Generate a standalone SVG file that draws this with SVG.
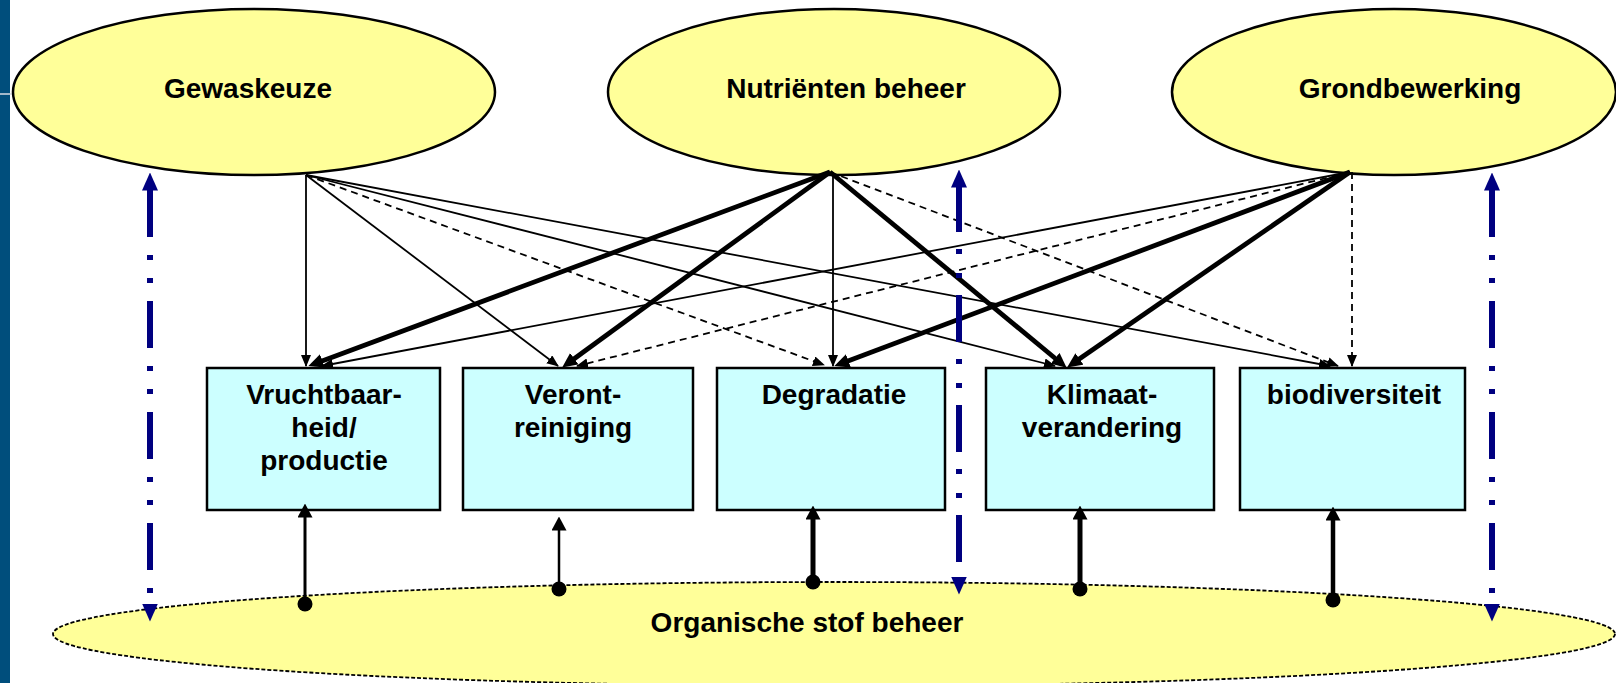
<svg xmlns="http://www.w3.org/2000/svg" width="1616" height="683" viewBox="0 0 1616 683">
<style>
.top{fill:#FFFF99;stroke:#000;stroke-width:2.5}
.box{fill:#CCFFFF;stroke:#000;stroke-width:2.5}
.bot{fill:#FFFF99;stroke:#000;stroke-width:1.8;stroke-dasharray:4 2}
.lbl{font-family:"Liberation Sans",Arial,sans-serif;font-weight:bold;font-size:28px;fill:#000;text-anchor:middle}
.thin{fill:none;stroke:#000;stroke-width:1.8;marker-end:url(#ah)}
.dash{fill:none;stroke:#000;stroke-width:1.8;stroke-dasharray:7 5;marker-end:url(#ah)}
.thick{fill:none;stroke:#000;stroke-width:4.8;marker-end:url(#ahk)}
.blue{fill:none;stroke:#000080;stroke-width:6;marker-start:url(#bah);marker-end:url(#bah)}
.up{fill:none;stroke:#000;marker-start:url(#dot);marker-end:url(#uah)}
</style>
<defs>
<marker id="ah" markerUnits="userSpaceOnUse" markerWidth="12" markerHeight="10" viewBox="0 0 12 10" refX="11" refY="5" orient="auto"><path d="M0,0 L12,5 L0,10 z" fill="#000"/></marker>
<marker id="ahk" markerUnits="userSpaceOnUse" markerWidth="15" markerHeight="14" viewBox="0 0 15 14" refX="9" refY="7" orient="auto"><path d="M0,0 L15,7 L0,14 z" fill="#000"/></marker>
<marker id="bah" markerUnits="userSpaceOnUse" markerWidth="18" markerHeight="16" viewBox="0 0 18 16" refX="0.5" refY="8" orient="auto-start-reverse"><path d="M0,0 L18,8 L0,16 z" fill="#000080"/></marker>
<marker id="uah" markerUnits="userSpaceOnUse" markerWidth="14" markerHeight="15" viewBox="0 0 14 15" refX="0.5" refY="7.5" orient="auto"><path d="M0,0 L14,7.5 L0,15 z" fill="#000"/></marker>
<marker id="dot" markerUnits="userSpaceOnUse" markerWidth="16" markerHeight="16" viewBox="0 0 16 16" refX="8" refY="8" orient="auto"><circle cx="8" cy="8" r="7.5" fill="#000"/></marker>
</defs>
<rect x="0" y="0" width="1616" height="683" fill="#fff"/>
<rect x="0" y="0" width="10" height="683" fill="#004E7C"/>
<line x1="0" y1="94" x2="14" y2="94" stroke="#d8dde4" stroke-width="1.5"/>

<g id="organische">
<ellipse class="bot" cx="834" cy="634" rx="781" ry="52"/>
<text class="lbl" x="807" y="632">Organische stof beheer</text>
</g>

<g id="gewaskeuze">
<ellipse class="top" cx="254" cy="92" rx="241" ry="83"/>
<text class="lbl" x="248" y="98">Gewaskeuze</text>
</g>
<g id="nutrienten">
<ellipse class="top" cx="834" cy="92" rx="226" ry="83"/>
<text class="lbl" x="846" y="98">Nutriënten beheer</text>
</g>
<g id="grondbewerking">
<ellipse class="top" cx="1394" cy="92" rx="222" ry="83"/>
<text class="lbl" x="1410" y="98">Grondbewerking</text>
</g>

<g id="vruchtbaarheid">
<rect class="box" x="207" y="368" width="233" height="142"/>
<text class="lbl" x="324" y="404">Vruchtbaar-</text>
<text class="lbl" x="324" y="437">heid/</text>
<text class="lbl" x="324" y="470">productie</text>
</g>
<g id="verontreiniging">
<rect class="box" x="463" y="368" width="230" height="142"/>
<text class="lbl" x="573" y="404">Veront-</text>
<text class="lbl" x="573" y="437">reiniging</text>
</g>
<g id="degradatie">
<rect class="box" x="717" y="368" width="228" height="142"/>
<text class="lbl" x="834" y="404">Degradatie</text>
</g>
<g id="klimaatverandering">
<rect class="box" x="986" y="368" width="228" height="142"/>
<text class="lbl" x="1102" y="404">Klimaat-</text>
<text class="lbl" x="1102" y="437">verandering</text>
</g>
<g id="biodiversiteit">
<rect class="box" x="1240" y="368" width="225" height="142"/>
<text class="lbl" x="1354" y="404">biodiversiteit</text>
</g>

<g id="connectors">
<!-- from Gewaskeuze -->
<path class="thin" d="M306,175 L306,366"/>
<path class="thin" d="M306,175 L558,366"/>
<path class="dash" d="M306,175 L824,365"/>
<path class="thin" d="M306,175 L1055,366"/>
<path class="thin" d="M306,175 L1330,366"/>
<!-- from Nutrienten -->
<path class="thick" d="M830,172 L314,364"/>
<path class="thick" d="M830,172 L567,364"/>
<path class="thin" d="M833,172 L833,366"/>
<path class="thick" d="M830,172 L1062,364"/>
<path class="dash" d="M830,172 L1338,366"/>
<!-- from Grondbewerking -->
<path class="thin" d="M1350,172 L322,366"/>
<path class="dash" d="M1350,172 L577,366"/>
<path class="thick" d="M1350,172 L840,364"/>
<path class="thick" d="M1350,172 L1072,364"/>
<path class="dash" d="M1352,172 L1352,366"/>
<!-- blue dash-dot-dot double arrows -->
<path class="blue" style="stroke-dasharray:47 18 5 18 5 18" d="M150,190 L150,604"/>
<path class="blue" style="stroke-dasharray:47 17 5 19 5 17;stroke-dashoffset:2" d="M959,187 L959,577"/>
<path class="blue" style="stroke-dasharray:47 18 5 18 5 18" d="M1492,190 L1492,604"/>
<!-- from Organische stof beheer up to boxes -->
<path class="up" style="stroke-width:3" d="M305,604 L305,517"/>
<path class="up" style="stroke-width:2.5" d="M559,589 L559,530"/>
<path class="up" style="stroke-width:5" d="M813,582 L813,519"/>
<path class="up" style="stroke-width:5" d="M1080,589 L1080,519"/>
<path class="up" style="stroke-width:4.5" d="M1333,600 L1333,520"/>
</g>
</svg>
